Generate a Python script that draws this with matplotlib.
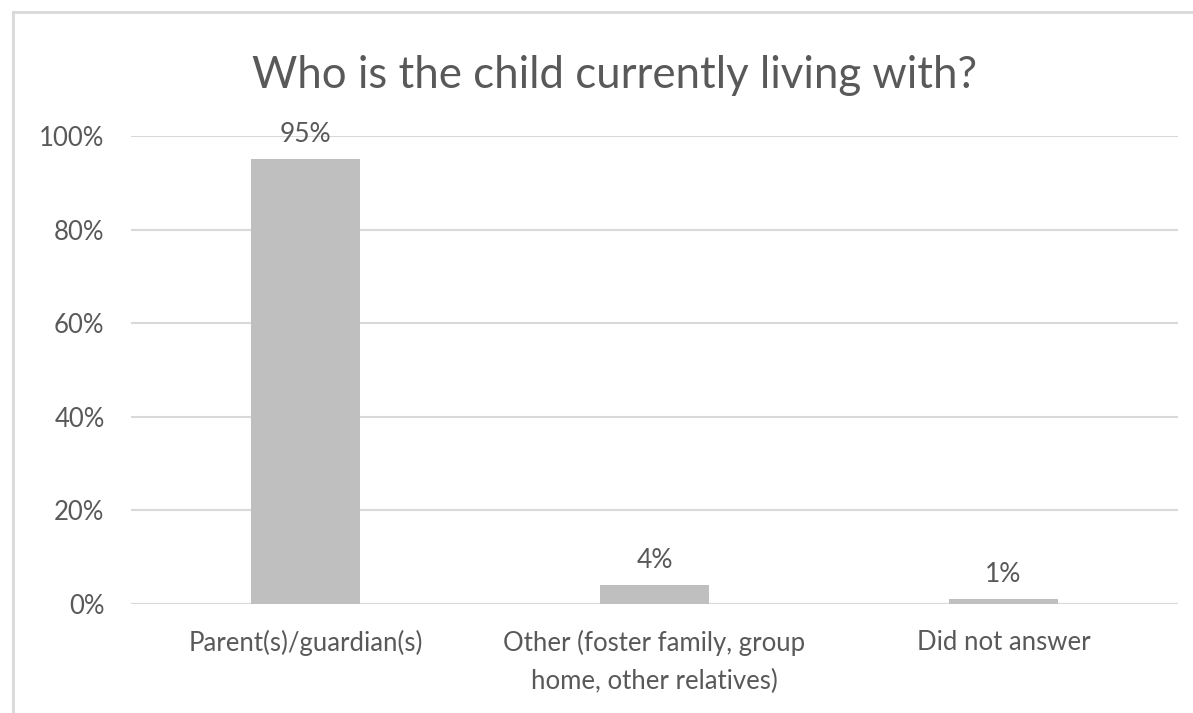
import matplotlib.pyplot as plt
from matplotlib.lines import Line2D

categories = ['Parent(s)/guardian(s)', 'Other (foster family, group\nhome, other relatives)', 'Did not answer']
values = [95, 4, 1]
y_ticks = [0, 20, 40, 60, 80, 100]

plt.rcParams['font.family'] = ['Lato', 'DejaVu Sans']
text_col = '#595959'
grid_col = '#D9D9D9'
bar_col = '#BFBFBF'

fig = plt.figure(figsize=(11.93, 7.13), dpi=100)
ax = fig.add_axes([131 / 1193, 109 / 713, 1047 / 1193, 468 / 713])

x = list(range(len(categories)))
bars = ax.bar(x, values, width=0.31, color=bar_col, zorder=2)

for xi, v in zip(x, values):
    ax.annotate(f'{v}%', (xi, v), xytext=(0, 9), textcoords='offset points',
                ha='center', va='bottom', fontsize=19, color=text_col)

ax.set_xlim(-0.5, len(categories) - 0.5)
ax.set_ylim(0, 100)
ax.set_yticks(y_ticks)
ax.set_yticklabels([f'{t}%' for t in y_ticks])
ax.set_xticks(x)
ax.set_xticklabels(categories, linespacing=1.6)
ax.tick_params(axis='both', length=0, labelsize=18.5, labelcolor=text_col)
ax.tick_params(axis='x', pad=19)
ax.tick_params(axis='y', pad=19)
ax.yaxis.grid(True, color=grid_col, linewidth=1.5, zorder=0)
ax.set_axisbelow(True)
for s in ax.spines.values():
    s.set_visible(False)
ax.axhline(0, color=grid_col, linewidth=1.5, zorder=1)

fig.text(615 / 1193, 1 - 75 / 713, 'Who is the child currently living with?', ha='center', va='center',
         fontsize=31.5, color=text_col)

# chart border (left and top visible)
fig.add_artist(Line2D([13 / 1193, 13 / 1193], [0, 1 - 12 / 713], transform=fig.transFigure,
                      color=grid_col, linewidth=2))
fig.add_artist(Line2D([13 / 1193, 1], [1 - 12 / 713, 1 - 12 / 713], transform=fig.transFigure,
                      color=grid_col, linewidth=2))

fig.savefig('out.png', dpi=100)
